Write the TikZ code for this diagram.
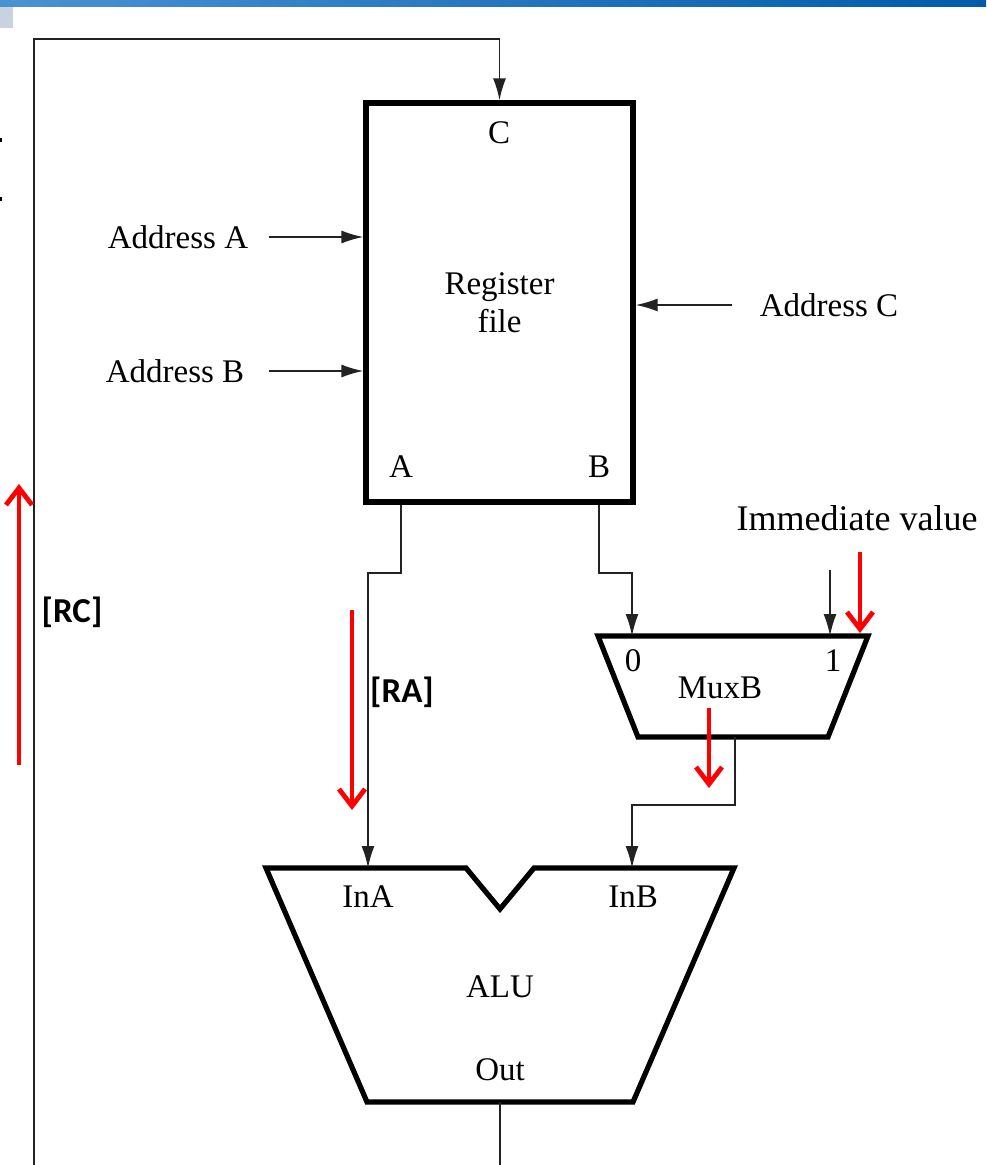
\documentclass[tikz,border=0pt]{standalone}
\usepackage{fontspec}
\setmainfont{Liberation Serif}
\newfontfamily\labelfont{Carlito}
\usetikzlibrary{arrows.meta, positioning, shapes.geometric}
\definecolor{bandL}{HTML}{4A93D2}
\definecolor{bandR}{HTML}{005BAA}
\definecolor{bandGray}{HTML}{C9D3E0}
\definecolor{wireGray}{HTML}{222222}

\begin{document}
\begin{tikzpicture}[x=0.5pt, y=-0.5pt,
    every node/.style={font=\fontsize{16.5}{19}\selectfont, inner sep=0pt},
    block/.style={draw, line width=2.6pt, line join=miter},
    wire/.style={draw=wireGray, line width=0.9pt},
    arrow/.style={wire, -{Latex[length=11pt, width=6.5pt]}},
    redarrow/.style={draw=red, line width=2.4pt, -{Straight Barb[length=8.5pt, width=13pt]}},
    tag/.style={font=\labelfont\bfseries\fontsize{17.5}{20}\selectfont}]
    \useasboundingbox (0,0) rectangle (986,1165);
    \fill[left color=bandL, right color=bandR] (0,0) rectangle (986,7);
    \fill[bandGray] (0,7) rectangle (13,28);
    \fill (0,138) rectangle (2,142);
    \fill (0,197) rectangle (2,201);

    \node[block, minimum width=133.5pt, minimum height=199.5pt, align=center] (regfile) at (499.5,302.5) {Register\\file};
    \node (portC) at (499,133) {C};
    \node (portA) at (401,467) {A};
    \node (portB) at (599,467) {B};

    \node (addrA) at (178,237) {Address A};
    \node (addrB) at (175,371) {Address B};
    \node (addrC) at (829,305) {Address C};
    \node[font=\fontsize{18}{20}\selectfont] (imm) at (857,518) {Immediate value};

    \draw[block] (598,636) -- (868,636) -- (828,737) -- (638,737) -- cycle;
    \node (mux0) at (633,661) {0};
    \node (mux1) at (833,661) {1};
    \node (muxB) at (720,688) {MuxB};

    \draw[block] (266,868) -- (466,868) -- (500,909) -- (534,868) -- (734,868) -- (633,1102) -- (367,1102) -- cycle;
    \node (inA) at (368,897) {InA};
    \node (inB) at (633,897) {InB};
    \node (alu) at (500,987) {ALU};
    \node (out) at (500,1070) {Out};

    \coordinate (aluOut) at (500,1102);
    \coordinate (outEnd) at (500,1165);
    \coordinate (fbStart) at (34,1165);
    \coordinate (fbCorner) at (34,39);
    \coordinate (inAtop) at (368,868);
    \coordinate (inBtop) at (632,868);
    \coordinate (mux0top) at (632,636);
    \coordinate (mux1top) at (830,636);
    \coordinate (immIn) at (830,570);
    \coordinate (muxOut) at (735,737);

    \draw[arrow] (fbStart) -- (fbCorner) -| (regfile.north);
    \draw[arrow, shorten <=10pt] (addrA) -- (addrA -| regfile.west);
    \draw[arrow, shorten <=12pt] (addrB) -- (addrB -| regfile.west);
    \draw[arrow, shorten <=13.5pt] (addrC) -- (addrC -| regfile.east);
    \draw[arrow] (regfile.south -| portA) -- ++(0,68) -| (inAtop);
    \draw[arrow] (regfile.south -| portB) -- ++(0,68) -| (mux0top);
    \draw[arrow] (immIn) -- (mux1top);
    \draw[arrow] (muxOut) -- ++(0,68) -| (inBtop);
    \draw[wire] (aluOut) -- (outEnd);

    % red markers
    \coordinate (rcTail) at (19,765);
    \coordinate (rcHead) at (19,484);
    \coordinate (raTail) at (352,610);
    \coordinate (raHead) at (352,810);
    \coordinate (immTail) at (860,552);
    \coordinate (immHead) at (860,633);
    \coordinate (mbTail) at (709,708);
    \coordinate (mbHead) at (709,788);
    \draw[redarrow] (rcTail) -- (rcHead);
    \draw[redarrow] (raTail) -- (raHead);
    \draw[redarrow] (immTail) -- (immHead);
    \draw[redarrow] (mbTail) -- (mbHead);
    \node[tag] (rc) at (72,612) {[RC]};
    \node[tag] (ra) at (402,692) {[RA]};
\end{tikzpicture}
\end{document}
